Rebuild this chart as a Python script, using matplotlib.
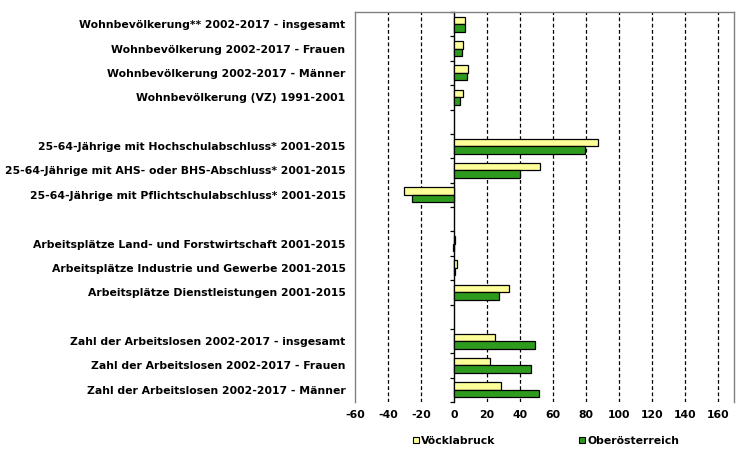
import numpy as np
import matplotlib
matplotlib.use("Agg")
import matplotlib.pyplot as plt
from matplotlib.patches import Patch

categories = [
    "Wohnbevölkerung** 2002-2017 - insgesamt",
    "Wohnbevölkerung 2002-2017 - Frauen",
    "Wohnbevölkerung 2002-2017 - Männer",
    "Wohnbevölkerung (VZ) 1991-2001",
    "",
    "25-64-Jährige mit Hochschulabschluss* 2001-2015",
    "25-64-Jährige mit AHS- oder BHS-Abschluss* 2001-2015",
    "25-64-Jährige mit Pflichtschulabschluss* 2001-2015",
    "",
    "Arbeitsplätze Land- und Forstwirtschaft 2001-2015",
    "Arbeitsplätze Industrie und Gewerbe 2001-2015",
    "Arbeitsplätze Dienstleistungen 2001-2015",
    "",
    "Zahl der Arbeitslosen 2002-2017 - insgesamt",
    "Zahl der Arbeitslosen 2002-2017 - Frauen",
    "Zahl der Arbeitslosen 2002-2017 - Männer",
]
voecklabruck = [6.7, 5.5, 8.5, 5.5, np.nan, 87.3, 52.1, -30.3, np.nan,
                0.6, 1.8, 33.3, np.nan, 24.8, 21.8, 28.7]
oberoesterreich = [6.7, 4.8, 7.9, 3.6, np.nan, 79.4, 40.0, -25.5, np.nan,
                   -0.6, 0.5, 27.3, np.nan, 49.1, 46.7, 51.5]
xticks = [-60, -40, -20, 0, 20, 40, 60, 80, 100, 120, 140, 160]
series_names = ["Vöcklabruck", "Oberösterreich"]

YELLOW = "#FFFF99"
GREEN = "#2E9B1E"
FS = 7.8

fig = plt.figure(figsize=(7.55, 4.58), dpi=100)
ax = fig.add_axes([355.3 / 755, 1 - 402 / 458, (734.3 - 355.3) / 755, 390 / 458])

n = len(categories)
y = np.arange(n)
h = 0.31
v1 = np.array(voecklabruck, dtype=float)
v2 = np.array(oberoesterreich, dtype=float)
m1 = ~np.isnan(v1)
m2 = ~np.isnan(v2)
ax.barh(y[m1] - h / 2, v1[m1], height=h, color=YELLOW, edgecolor="black", linewidth=0.9, zorder=3)
ax.barh(y[m2] + h / 2, v2[m2], height=h, color=GREEN, edgecolor="black", linewidth=0.9, zorder=3)

ax.set_xlim(-60, 170)
ax.set_ylim(n - 0.5, -0.5)

for t in xticks:
    if t not in (xticks[0], 0):
        ax.axvline(t, color="black", linewidth=0.9, linestyle=(0, (3, 2)), zorder=1)

ax.set_xticks(xticks)
ax.set_xticklabels([str(t) for t in xticks], fontsize=FS, fontweight="bold")
ax.tick_params(axis="x", length=0, pad=6)
ax.set_yticks(y)
ax.set_yticklabels(categories, fontsize=FS, fontweight="bold")
ax.tick_params(axis="y", length=0, pad=7)

for s in ["left", "top", "right"]:
    ax.spines[s].set_color("#808080")
    ax.spines[s].set_linewidth(1.0)
ax.spines["bottom"].set_visible(False)

sec = ax.secondary_yaxis(60 / 230)
sec.set_yticks(np.arange(-0.5, n, 1.0))
sec.set_yticklabels([])
sec.tick_params(axis="y", length=3, width=0.9, color="black", direction="out")
sec.spines["left"].set_color("black")
sec.spines["left"].set_linewidth(1.0)

handles = [Patch(facecolor=YELLOW, edgecolor="black", linewidth=0.8),
           Patch(facecolor=GREEN, edgecolor="black", linewidth=0.8)]
leg = fig.legend(handles, series_names, loc="center", bbox_to_anchor=(546 / 755, 1 - 441 / 458),
                 ncol=2, frameon=False, handlelength=0.55, handleheight=0.55, handletextpad=0.2,
                 columnspacing=7.7, prop={"size": FS, "weight": "bold"})

fig.savefig("out.png", dpi=100)
